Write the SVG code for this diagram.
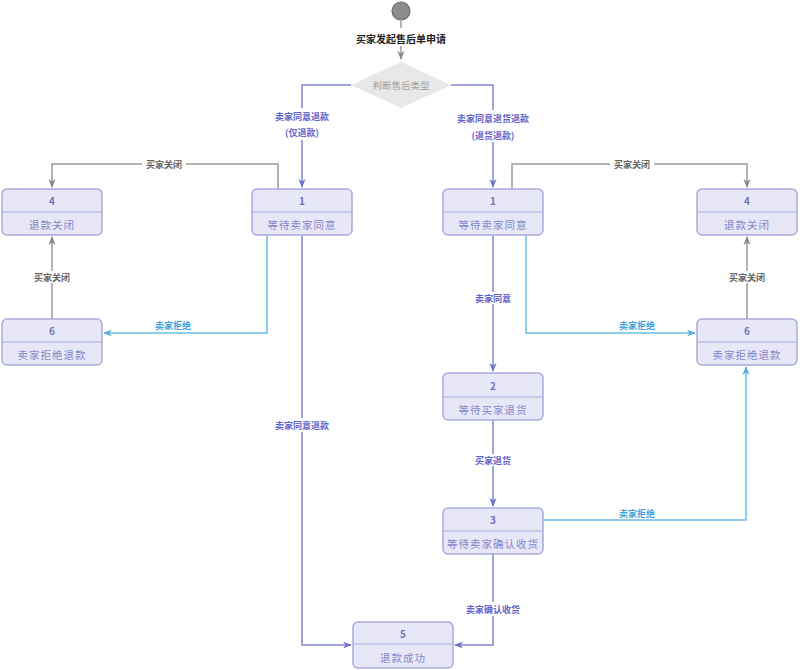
<svg xmlns="http://www.w3.org/2000/svg" width="800" height="670" viewBox="0 0 800 670">
<style>
text{font-family:"Noto Sans CJK SC","Noto Sans",sans-serif;text-anchor:middle;dominant-baseline:central}
.box{fill:#e7e7f8;stroke:#a9abdd;stroke-width:1.5}
.div{stroke:#a9abdd;stroke-width:1.2}
.num{font-size:10px;fill:#6f72b8;font-weight:bold}
.nm{font-size:10.5px;fill:#8587c8;letter-spacing:1px}
.p{fill:none;stroke:#8385d6;stroke-width:1.5}
.g{fill:none;stroke:#9a9a9a;stroke-width:1.5}
.c{fill:none;stroke:#6cbde6;stroke-width:1.5}
.lp{font-size:9px;fill:#6266cc;font-weight:bold}
.lg{font-size:9px;fill:#666;font-weight:bold}
.lc{font-size:9px;fill:#3fa3de;font-weight:bold}
.bg{fill:#fff}
</style>
<defs>
<marker id="ap" viewBox="0 0 10 10" refX="9" refY="5" markerWidth="6" markerHeight="6" orient="auto"><path d="M0,1 L10,5 L0,9 L3,5 z" fill="#7073cc"/></marker>
<marker id="ag" viewBox="0 0 10 10" refX="9" refY="5" markerWidth="6" markerHeight="6" orient="auto"><path d="M0,1 L10,5 L0,9 L3,5 z" fill="#888"/></marker>
<marker id="ac" viewBox="0 0 10 10" refX="9" refY="5" markerWidth="6" markerHeight="6" orient="auto"><path d="M0,1 L10,5 L0,9 L3,5 z" fill="#5aaedc"/></marker>
</defs>
<rect width="800" height="670" fill="#fff"/>

<g id="connectors">
<path class="g" d="M401,21 V28"/>
<path class="g" d="M401,46 V59" marker-end="url(#ag)"/>
<path class="p" d="M351,85 H302 V187" marker-end="url(#ap)"/>
<path class="p" d="M451,85 H493 V187" marker-end="url(#ap)"/>
<path class="g" d="M278,189 V164 H52 V187" marker-end="url(#ag)"/>
<path class="g" d="M52,319 V237" marker-end="url(#ag)"/>
<path class="c" d="M267,235 V333 H104" marker-end="url(#ac)"/>
<path class="p" d="M302,235 V645 H351" marker-end="url(#ap)"/>
<path class="g" d="M512,189 V164 H747 V187" marker-end="url(#ag)"/>
<path class="p" d="M493,235 V371" marker-end="url(#ap)"/>
<path class="c" d="M526,235 V333 H695" marker-end="url(#ac)"/>
<path class="g" d="M747,319 V237" marker-end="url(#ag)"/>
<path class="p" d="M493,420 V506" marker-end="url(#ap)"/>
<path class="c" d="M543,520 H746 V367" marker-end="url(#ac)"/>
<path class="p" d="M493,554 V645 H455" marker-end="url(#ap)"/>

<rect class="bg" x="268" y="108" width="68" height="32"/>
<text class="lp" x="302" y="116">卖家同意退款</text>
<text class="lp" x="302" y="132">(仅退款)</text>
<rect class="bg" x="452" y="110" width="82" height="32"/>
<text class="lp" x="493" y="118">卖家同意退货退款</text>
<text class="lp" x="493" y="135">(退货退款)</text>
<rect class="bg" x="142" y="158" width="44" height="12"/>
<text class="lg" x="164" y="164">买家关闭</text>
<rect class="bg" x="30" y="271" width="44" height="12"/>
<text class="lg" x="52" y="277">买家关闭</text>
<text class="lc" x="173" y="325">卖家拒绝</text>
<rect class="bg" x="272" y="418" width="60" height="14"/>
<text class="lp" x="302" y="425">卖家同意退款</text>
<rect class="bg" x="610" y="158" width="44" height="12"/>
<text class="lg" x="632" y="164">买家关闭</text>
<rect class="bg" x="471" y="292" width="44" height="12"/>
<text class="lp" x="493" y="298">卖家同意</text>
<text class="lc" x="637" y="325">卖家拒绝</text>
<rect class="bg" x="725" y="271" width="44" height="12"/>
<text class="lg" x="747" y="277">买家关闭</text>
<rect class="bg" x="471" y="454" width="44" height="12"/>
<text class="lp" x="493" y="460">买家退货</text>
<text class="lc" x="637" y="513">卖家拒绝</text>
<rect class="bg" x="463" y="602" width="60" height="14"/>
<text class="lp" x="493" y="609">卖家确认收货</text>
</g>

<g id="start">
<circle cx="401" cy="11" r="9" fill="#8c8c8c" stroke="#6e6e6e" stroke-width="1.2"/>
<text x="401" y="38" font-size="10" font-weight="bold" fill="#222">买家发起售后单申请</text>
</g>

<g id="decision">
<polygon points="401,62 451,85 401,108 351,85" fill="#e8e8e8"/>
<text x="401" y="85" font-size="9.5" fill="#a0a0a0">判断售后类型</text>
</g>

<g id="node-left-4">
<rect class="box" x="2" y="189" width="100" height="46" rx="5"/>
<line class="div" x1="2" y1="212" x2="102" y2="212"/>
<text class="num" x="52" y="200">4</text>
<text class="nm" x="52" y="224">退款关闭</text>
</g>
<g id="node-left-1">
<rect class="box" x="252" y="189" width="100" height="46" rx="5"/>
<line class="div" x1="252" y1="212" x2="352" y2="212"/>
<text class="num" x="302" y="200">1</text>
<text class="nm" x="302" y="224">等待卖家同意</text>
</g>
<g id="node-left-6">
<rect class="box" x="2" y="319" width="100" height="46" rx="5"/>
<line class="div" x1="2" y1="342" x2="102" y2="342"/>
<text class="num" x="52" y="330">6</text>
<text class="nm" x="52" y="354">卖家拒绝退款</text>
</g>
<g id="node-right-1">
<rect class="box" x="443" y="189" width="100" height="46" rx="5"/>
<line class="div" x1="443" y1="212" x2="543" y2="212"/>
<text class="num" x="493" y="200">1</text>
<text class="nm" x="493" y="224">等待卖家同意</text>
</g>
<g id="node-right-4">
<rect class="box" x="697" y="189" width="100" height="46" rx="5"/>
<line class="div" x1="697" y1="212" x2="797" y2="212"/>
<text class="num" x="747" y="200">4</text>
<text class="nm" x="747" y="224">退款关闭</text>
</g>
<g id="node-right-6">
<rect class="box" x="697" y="319" width="100" height="46" rx="5"/>
<line class="div" x1="697" y1="342" x2="797" y2="342"/>
<text class="num" x="747" y="330">6</text>
<text class="nm" x="747" y="354">卖家拒绝退款</text>
</g>
<g id="node-2">
<rect class="box" x="443" y="373" width="100" height="47" rx="5"/>
<line class="div" x1="443" y1="397" x2="543" y2="397"/>
<text class="num" x="493" y="385">2</text>
<text class="nm" x="493" y="409">等待买家退货</text>
</g>
<g id="node-3">
<rect class="box" x="443" y="508" width="100" height="46" rx="5"/>
<line class="div" x1="443" y1="531" x2="543" y2="531"/>
<text class="num" x="493" y="519">3</text>
<text class="nm" x="493" y="543">等待卖家确认收货</text>
</g>
<g id="node-5">
<rect class="box" x="353" y="622" width="100" height="46" rx="5"/>
<line class="div" x1="353" y1="644" x2="453" y2="644"/>
<text class="num" x="403" y="633">5</text>
<text class="nm" x="403" y="657">退款成功</text>
</g>
</svg>
